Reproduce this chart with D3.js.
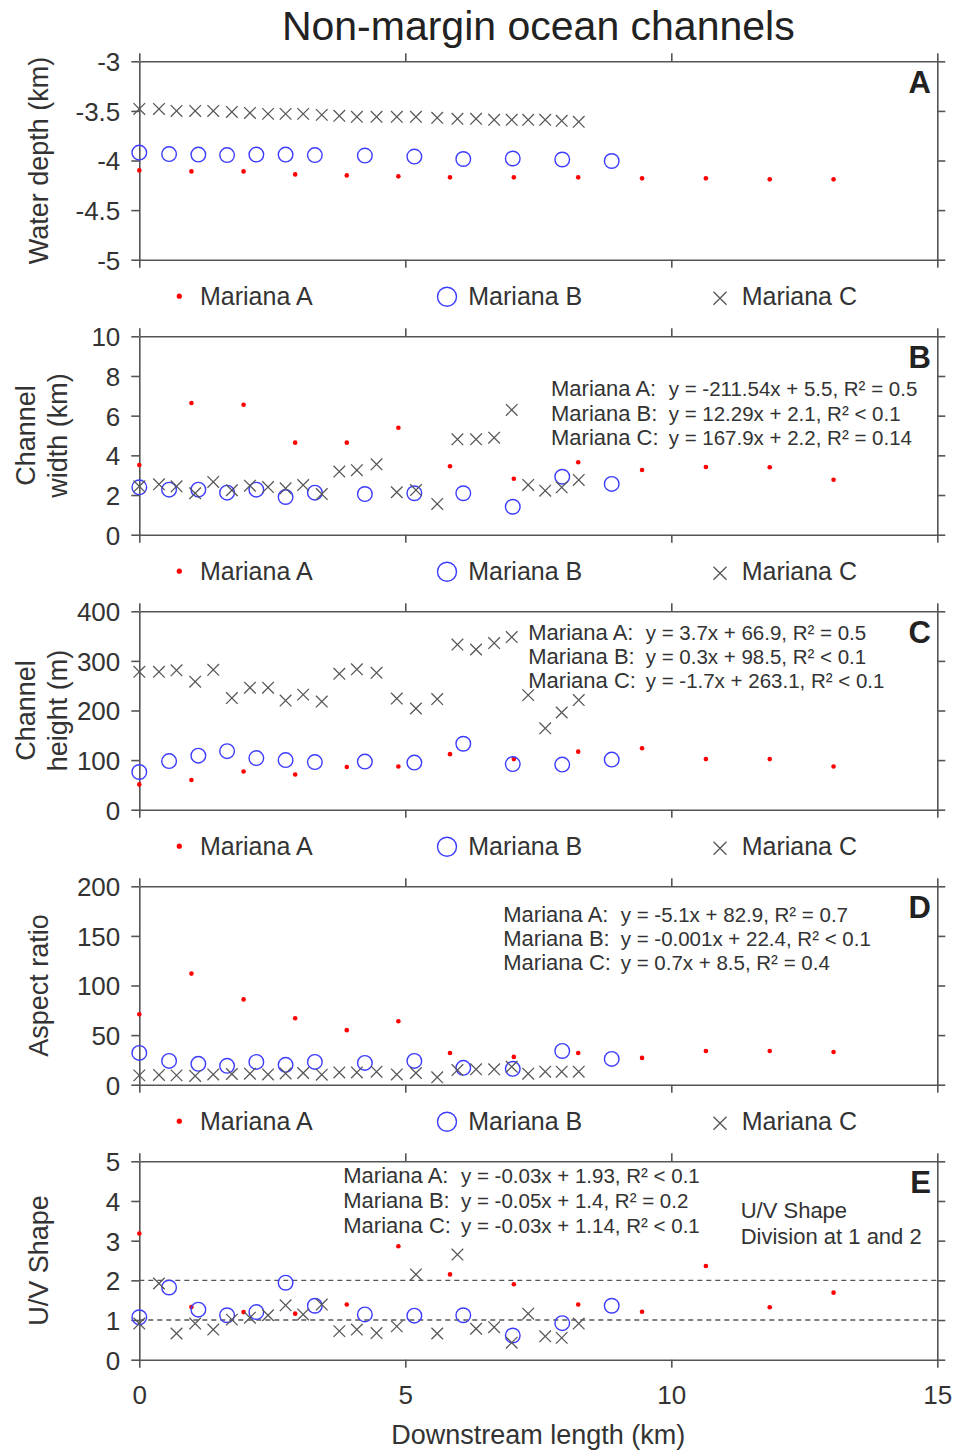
<!DOCTYPE html>
<html>
<head>
<meta charset="utf-8">
<script src="https://cdn.jsdelivr.net/npm/d3@7"></script>
<style>
  body { margin: 0; background: #fff; }
  svg { display: block; font-family: "Liberation Sans", Arial, Helvetica, sans-serif; }
</style>
</head>
<body>
<svg id="chart" width="961" height="1454"></svg>
<script>
// ---- Downstream distance of each survey point (km) ----
const xMarianaA = [0, 0.98, 1.96, 2.93, 3.90, 4.87, 5.84, 7.04, 8.25, 9.45, 10.65, 11.85, 13.05];
const xMarianaB = [0, 0.56, 1.11, 1.65, 2.20, 2.75, 3.30, 4.24, 5.17, 6.09, 7.02, 7.95, 8.88];
const xMarianaC = [0, 0.37, 0.70, 1.05, 1.39, 1.74, 2.08, 2.42, 2.75, 3.08, 3.43, 3.76, 4.09,
                   4.46, 4.84, 5.20, 5.60, 5.98, 6.33, 6.67, 7.00, 7.31, 7.63, 7.94, 8.26];

// ---- A: water depth (km) ----
const depthA = [-4.10, -4.11, -4.11, -4.14, -4.15, -4.16, -4.17, -4.17, -4.17, -4.18, -4.18, -4.19, -4.19];
const depthB = [-3.92, -3.935, -3.94, -3.945, -3.94, -3.94, -3.945, -3.95, -3.96, -3.985, -3.98, -3.99, -4.005];
const depthC = [-3.48, -3.48, -3.50, -3.50, -3.50, -3.51, -3.52, -3.53, -3.53, -3.53, -3.54, -3.55, -3.56,
                -3.56, -3.56, -3.56, -3.57, -3.58, -3.58, -3.59, -3.59, -3.59, -3.59, -3.60, -3.61];

// ---- B: channel width (km) ----
const widthA = [3.51, 6.64, 6.55, 4.64, 4.64, 5.39, 3.45, 2.82, 3.65, 3.26, 3.41, 3.40, 2.77];
const widthB = [2.39, 2.27, 2.27, 2.12, 2.27, 1.90, 2.12, 2.05, 2.09, 2.09, 1.41, 2.92, 2.56];
const widthC = [2.44, 2.54, 2.44, 2.09, 2.66, 2.24, 2.47, 2.40, 2.34, 2.50, 2.05, 3.18, 3.25,
                3.55, 2.14, 2.25, 1.55, 4.81, 4.81, 4.89, 6.29, 2.51, 2.22, 2.39, 2.76];

// ---- C: channel height (m) ----
const heightA = [51, 60, 77, 71, 86, 87, 112, 102, 117, 124, 102, 102, 87];
const heightB = [76, 98, 109, 118, 104, 100, 96, 97, 95, 133, 92, 91, 101];
const heightC = [278, 278, 281, 258, 282, 225, 246, 246, 220, 232, 218, 274, 283,
                 276, 224, 204, 223, 333, 323, 336, 348, 231, 164, 196, 221];

// ---- D: aspect ratio ----
const aspectA = [71, 112, 86, 67, 55, 64, 32, 28, 32, 27, 34, 34, 33];
const aspectB = [32, 24, 21, 19, 23, 20, 23, 22, 24, 17, 16, 34, 26];
const aspectC = [9.4, 9.8, 9.4, 8.8, 10.4, 10.8, 11.1, 10.4, 11.4, 11.8, 10.1, 12.4, 12.4,
                 13.1, 10.4, 11.8, 7.4, 14.8, 15.5, 15.5, 18.1, 11.1, 13.1, 13.1, 13.1];

// ---- E: U/V shape index ----
const shapeA = [3.18, 1.33, 1.20, 1.16, 1.39, 2.86, 2.15, 1.90, 1.39, 1.21, 2.36, 1.32, 1.69];
const shapeB = [1.07, 1.82, 1.26, 1.12, 1.20, 1.94, 1.36, 1.14, 1.11, 1.12, 0.61, 0.92, 1.36];
const shapeC = [0.91, 1.92, 0.66, 0.91, 0.76, 1.01, 1.06, 1.12, 1.37, 1.14, 1.39, 0.72, 0.76,
                0.67, 0.84, 2.15, 0.66, 2.65, 0.78, 0.82, 0.43, 1.16, 0.59, 0.55, 0.91];
const shapeDivisions = [1, 2];

// ---- Labels ----
const seriesNames = ["Mariana A", "Mariana B", "Mariana C"];
const xTicks = [0, 5, 10, 15];
const depthTicks = [-5, -4.5, -4, -3.5, -3];
const widthTicks = [0, 2, 4, 6, 8, 10];
const heightTicks = [0, 100, 200, 300, 400];
const aspectTicks = [0, 50, 100, 150, 200];
const shapeTicks = [0, 1, 2, 3, 4, 5];
const fitsWidth = ["y = -211.54x + 5.5, R\u00B2 = 0.5", "y = 12.29x + 2.1, R\u00B2 < 0.1", "y = 167.9x + 2.2, R\u00B2 = 0.14"];
const fitsHeight = ["y = 3.7x + 66.9, R\u00B2 = 0.5", "y = 0.3x + 98.5, R\u00B2 < 0.1", "y = -1.7x + 263.1, R\u00B2 < 0.1"];
const fitsAspect = ["y = -5.1x + 82.9, R\u00B2 = 0.7", "y = -0.001x + 22.4, R\u00B2 < 0.1", "y = 0.7x + 8.5, R\u00B2 = 0.4"];
const fitsShape = ["y = -0.03x + 1.93, R\u00B2 < 0.1", "y = -0.05x + 1.4, R\u00B2 = 0.2", "y = -0.03x + 1.14, R\u00B2 < 0.1"];
const shapeNote = ["U/V Shape", "Division at 1 and 2"];

// ---- Layout and styling ----
const LEFT = 139.3, RIGHT = 937.3, PLOT_H = 198.4, STEP = 275, FIRST_TOP = 61.3;
const AXIS_COLOR = "#555", TEXT_COLOR = "#333";
const RED = "#ff0000", BLUE = "#3c3cff", GREY = "#555";

const panels = [
  { letter: "A", domain: [-5, -3], ticks: depthTicks, label: ["Water depth (km)"],
    values: [depthA, depthB, depthC], fits: null, legend: true },
  { letter: "B", domain: [0, 10], ticks: widthTicks, label: ["Channel", "width (km)"],
    values: [widthA, widthB, widthC], fits: fitsWidth, fitPos: { lx: 551, ex: 668.7, y0: 59.6, dy: 24.6 }, legend: true },
  { letter: "C", domain: [0, 400], ticks: heightTicks, label: ["Channel", "height (m)"],
    values: [heightA, heightB, heightC], fits: fitsHeight, fitPos: { lx: 528.3, ex: 645.7, y0: 28.6, dy: 24 }, legend: true },
  { letter: "D", domain: [0, 200], ticks: aspectTicks, label: ["Aspect ratio"],
    values: [aspectA, aspectB, aspectC], fits: fitsAspect, fitPos: { lx: 503.3, ex: 620.7, y0: 35.4, dy: 24.2 }, legend: true },
  { letter: "E", domain: [0, 5], ticks: shapeTicks, label: ["U/V Shape"],
    values: [shapeA, shapeB, shapeC], fits: fitsShape, fitPos: { lx: 343.3, ex: 461, y0: 21.7, dy: 24.9 }, legend: false,
    guides: shapeDivisions, note: shapeNote }
];
const xSeries = [xMarianaA, xMarianaB, xMarianaC];

const svg = d3.select("#chart");
const x = d3.scaleLinear().domain([0, 15]).range([LEFT, RIGHT]);

// Title
svg.append("text")
  .attr("x", (LEFT + RIGHT) / 2).attr("y", 40)
  .attr("text-anchor", "middle")
  .attr("font-size", 41).attr("fill", "#222")
  .text("Non-margin ocean channels");

// Marker drawers shared by plots and legends
function drawDot(g, cx, cy, r) {
  g.append("circle").attr("cx", cx).attr("cy", cy).attr("r", r).attr("fill", RED);
}
function drawRing(g, cx, cy, r) {
  g.append("circle").attr("cx", cx).attr("cy", cy).attr("r", r)
    .attr("fill", "none").attr("stroke", BLUE).attr("stroke-width", 1.4);
}
function drawCross(g, cx, cy, h) {
  g.append("path")
    .attr("d", `M${cx - h},${cy - h}L${cx + h},${cy + h}M${cx - h},${cy + h}L${cx + h},${cy - h}`)
    .attr("stroke", GREY).attr("stroke-width", 1.25).attr("fill", "none");
}

function styleAxis(sel) {
  sel.select(".domain").attr("stroke", AXIS_COLOR).attr("stroke-width", 1.6);
  sel.selectAll(".tick line").attr("stroke", AXIS_COLOR).attr("stroke-width", 1.6);
  sel.selectAll(".tick text").attr("fill", TEXT_COLOR).attr("font-size", 26)
    .attr("font-family", '"Liberation Sans", Arial, Helvetica, sans-serif');
}

panels.forEach((p, i) => {
  const top = FIRST_TOP + i * STEP;
  const bot = top + PLOT_H;
  const y = d3.scaleLinear().domain(p.domain).range([bot, top]);
  const g = svg.append("g").attr("class", "panel-" + p.letter);
  const isLast = i === panels.length - 1;

  // Reference divisions (dashed)
  if (p.guides) {
    g.selectAll("line.guide").data(p.guides).join("line")
      .attr("class", "guide")
      .attr("x1", x(0)).attr("x2", x(15))
      .attr("y1", d => y(d)).attr("y2", d => y(d))
      .attr("stroke", "#555").attr("stroke-width", 1.3)
      .attr("stroke-dasharray", "5,4");
  }

  // Axes: ticks point outward on all four sides
  g.append("g").attr("transform", `translate(${LEFT},0)`)
    .call(d3.axisLeft(y).tickValues(p.ticks).tickSize(8).tickSizeOuter(0).tickPadding(11)
      .tickFormat(d => String(d)))
    .call(styleAxis)
    .selectAll(".tick text").attr("dy", "0.36em");
  g.append("g").attr("transform", `translate(${RIGHT},0)`)
    .call(d3.axisRight(y).tickValues(p.ticks).tickSize(8).tickSizeOuter(0).tickFormat(""))
    .call(styleAxis);
  g.append("g").attr("transform", `translate(0,${top})`)
    .call(d3.axisTop(x).tickValues(xTicks).tickSize(8).tickSizeOuter(0).tickFormat(""))
    .call(styleAxis);
  g.append("g").attr("transform", `translate(0,${bot})`)
    .call(d3.axisBottom(x).tickValues(xTicks).tickSize(8).tickSizeOuter(0).tickPadding(18)
      .tickFormat(isLast ? (d => String(d)) : ""))
    .call(styleAxis);

  // Y-axis title (one or two lines)
  const cy = (top + bot) / 2;
  const baselines = p.label.length === 2 ? [34.5, 66.5] : [48];
  p.label.forEach((line, k) => {
    g.append("text")
      .attr("transform", `translate(${baselines[k]},${cy}) rotate(-90)`)
      .attr("text-anchor", "middle")
      .attr("font-size", 27).attr("fill", TEXT_COLOR)
      .text(line);
  });

  // Data marks
  const [valsA, valsB, valsC] = p.values;
  const marks = g.append("g");
  xSeries[0].forEach((xv, k) => drawDot(marks, x(xv), y(valsA[k]), 2.3));
  xSeries[1].forEach((xv, k) => drawRing(marks, x(xv), y(valsB[k]), 7.3));
  xSeries[2].forEach((xv, k) => drawCross(marks, x(xv), y(valsC[k]), 5.8));

  // Panel letter
  g.append("text")
    .attr("x", 931).attr("y", top + 32)
    .attr("text-anchor", "end")
    .attr("font-size", 31).attr("font-weight", "bold").attr("fill", "#222")
    .text(p.letter);

  // Regression equations
  if (p.fits) {
    const fp = p.fitPos;
    p.fits.forEach((eq, k) => {
      const yy = top + fp.y0 + k * fp.dy;
      g.append("text").attr("x", fp.lx).attr("y", yy)
        .attr("font-size", 22).attr("fill", TEXT_COLOR).text(seriesNames[k] + ":");
      g.append("text").attr("x", fp.ex).attr("y", yy)
        .attr("font-size", 20.5).attr("fill", TEXT_COLOR).text(eq);
    });
  }

  // Shape note
  if (p.note) {
    p.note.forEach((line, k) => {
      g.append("text").attr("x", 740.7).attr("y", top + 57 + k * 25.5)
        .attr("font-size", 22).attr("fill", TEXT_COLOR).text(line);
    });
  }

  // Legend below the panel
  if (p.legend) {
    const lg = g.append("g");
    const ly = bot + 36.5;
    drawDot(lg, 179.3, ly, 2.6);
    drawRing(lg, 447, ly + 0.5, 9.5);
    drawCross(lg, 720, ly + 2, 6.5);
    [200, 468.3, 741.7].forEach((tx, k) => {
      lg.append("text").attr("x", tx).attr("y", bot + 45)
        .attr("font-size", 25).attr("fill", TEXT_COLOR).text(seriesNames[k]);
    });
  }

  // X-axis title under the last panel
  if (isLast) {
    g.append("text")
      .attr("x", (LEFT + RIGHT) / 2).attr("y", 1444)
      .attr("text-anchor", "middle")
      .attr("font-size", 27).attr("fill", TEXT_COLOR)
      .text("Downstream length (km)");
  }
});
</script>
</body>
</html>
